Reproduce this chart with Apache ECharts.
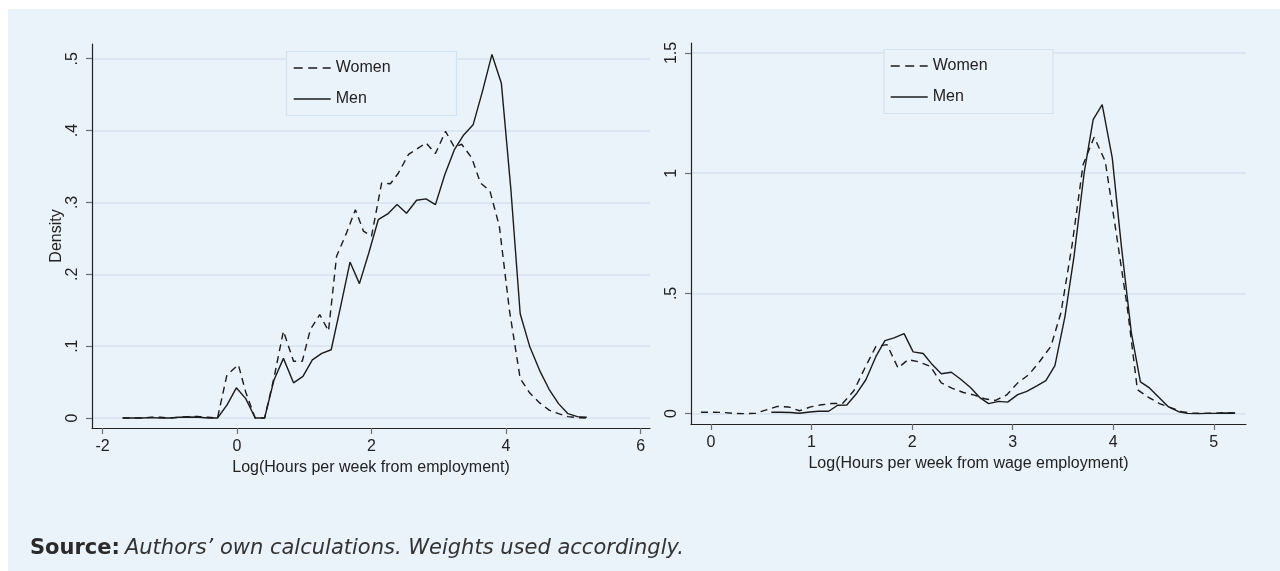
<!DOCTYPE html>
<html>
<head>
<meta charset="utf-8">
<script src="https://cdn.jsdelivr.net/npm/echarts@6/dist/echarts.min.js"></script>
<style>
  html, body { margin: 0; padding: 0; background: #ffffff; }
  #bg { position: absolute; left: 8px; top: 9px; width: 1272px; height: 562px; background: #EAF2FA; }
  #chart { position: absolute; left: 0; top: 0; width: 1280px; height: 571px; }
</style>
</head>
<body>
<div id="bg"></div>
<div id="chart"></div>
<script>
// ---------- Data ----------
// Left panel: Log(Hours per week from employment)
const leftWomenX = [-1.70,-1.56,-1.42,-1.28,-1.14,-1.00,-0.86,-0.71,-0.57,-0.43,-0.29,-0.15,0.02,0.13,0.27,0.41,0.55,0.69,0.84,0.97,1.09,1.23,1.36,1.48,1.63,1.76,1.88,2.00,2.15,2.28,2.40,2.55,2.67,2.81,2.95,3.10,3.23,3.34,3.49,3.62,3.76,3.90,4.05,4.21,4.35,4.50,4.64,4.78,4.92,5.06,5.20];
const leftWomenY = [0,0,0,0.001,0.001,0,0.001,0.002,0.002,0.001,0,0.060,0.074,0.036,0,0,0.056,0.121,0.079,0.079,0.123,0.144,0.121,0.225,0.258,0.290,0.260,0.253,0.327,0.326,0.341,0.367,0.374,0.383,0.368,0.399,0.377,0.381,0.362,0.327,0.316,0.267,0.150,0.055,0.035,0.021,0.011,0.006,0.002,0.0005,0];
const leftMenX = [-1.70,-1.56,-1.42,-1.28,-1.14,-1.00,-0.86,-0.71,-0.57,-0.43,-0.29,-0.15,-0.01,0.13,0.27,0.41,0.55,0.69,0.84,0.98,1.12,1.26,1.40,1.54,1.68,1.82,1.96,2.10,2.24,2.38,2.52,2.67,2.81,2.95,3.09,3.23,3.37,3.51,3.65,3.79,3.93,4.07,4.21,4.35,4.50,4.64,4.78,4.92,5.06,5.20];
const leftMenY = [0,0,0,0.0005,0,0,0.001,0.0015,0.001,0,0,0.018,0.042,0.027,0,0,0.053,0.083,0.049,0.058,0.081,0.090,0.095,0.155,0.217,0.187,0.230,0.276,0.284,0.297,0.285,0.303,0.305,0.297,0.339,0.373,0.394,0.408,0.455,0.506,0.466,0.320,0.145,0.100,0.066,0.040,0.020,0.006,0.002,0.001];

// Right panel: Log(Hours per week from wage employment)
const rightWomenX = [-0.10,0.01,0.12,0.23,0.33,0.44,0.55,0.66,0.77,0.88,0.99,1.10,1.20,1.31,1.42,1.53,1.64,1.75,1.86,1.96,2.07,2.18,2.29,2.40,2.51,2.62,2.72,2.83,2.94,3.05,3.16,3.27,3.38,3.48,3.59,3.70,3.81,3.92,4.03,4.14,4.24,4.35,4.46,4.57,4.68,4.79,4.90,5.00,5.11,5.22];
const rightWomenY = [0.006,0.006,0.005,0.001,0,0.001,0.016,0.030,0.028,0.012,0.028,0.037,0.042,0.043,0.095,0.190,0.280,0.287,0.190,0.225,0.215,0.197,0.128,0.105,0.088,0.077,0.062,0.055,0.078,0.128,0.162,0.218,0.280,0.420,0.700,1.036,1.150,1.050,0.750,0.440,0.100,0.068,0.042,0.025,0.008,0.002,0.001,0.002,0.004,0.003];
const rightMenX = [0.60,0.69,0.79,0.88,0.98,1.07,1.17,1.26,1.35,1.45,1.54,1.64,1.73,1.82,1.92,2.01,2.11,2.20,2.29,2.39,2.48,2.58,2.67,2.76,2.86,2.95,3.05,3.14,3.24,3.33,3.42,3.52,3.61,3.71,3.80,3.89,3.99,4.08,4.18,4.27,4.36,4.46,4.55,4.65,4.74,4.84,4.93,5.02,5.12,5.21];
const rightMenY = [0.006,0.006,0.005,0.002,0.007,0.010,0.010,0.035,0.036,0.085,0.141,0.238,0.304,0.315,0.333,0.257,0.250,0.204,0.166,0.172,0.144,0.109,0.068,0.042,0.051,0.048,0.079,0.093,0.116,0.137,0.200,0.405,0.654,1.000,1.223,1.285,1.064,0.700,0.336,0.132,0.107,0.065,0.028,0.008,0.001,0,0.001,0.001,0.003,0.002];

// Tick labels
const leftXTicks = [-2, 0, 2, 4, 6];
const leftYTicks = [0, 0.1, 0.2, 0.3, 0.4, 0.5];
const rightXTicks = [0, 1, 2, 3, 4, 5];
const rightYTicks = [0, 0.5, 1, 1.5];
const seriesNames = ['Women', 'Men'];

// ---------- Chart ----------
const zip = (xs, ys) => xs.map((x, i) => [x, ys[i]]);
const FONT = '"Liberation Sans", Arial, sans-serif';
const TXT = '#222222';
const stataNum = v => (v === 0 ? '0' : String(v).replace(/^0\./, '.'));

function xAxisCfg(gridIndex, min, max, ticks, name) {
  return {
    type: 'value', gridIndex, min, max,
    name, nameLocation: 'middle', nameGap: 24,
    nameTextStyle: { fontFamily: FONT, fontSize: 16, color: TXT },
    axisLine: { show: true, onZero: false, lineStyle: { color: '#222', width: 1.2 } },
    axisTick: { show: true, customValues: ticks, length: 6, lineStyle: { color: '#6f6f6f', width: 1.2 } },
    axisLabel: { customValues: ticks, margin: 11, fontFamily: FONT, fontSize: 16, color: TXT, formatter: v => String(v) },
    splitLine: { show: false }
  };
}
function yAxisCfg(gridIndex, min, max, ticks, name) {
  return {
    type: 'value', gridIndex, min, max,
    name, nameLocation: 'middle', nameGap: 26, nameRotate: 90,
    nameTextStyle: { fontFamily: FONT, fontSize: 16, color: TXT },
    axisLine: { show: true, onZero: false, lineStyle: { color: '#222', width: 1.2 } },
    axisTick: { show: true, customValues: ticks, length: 6, lineStyle: { color: '#6f6f6f', width: 1.2 } },
    axisLabel: { customValues: ticks, rotate: 90, margin: 11, fontFamily: FONT, fontSize: 16, color: TXT, formatter: stataNum },
    splitLine: { show: true, lineStyle: { color: '#D4E3F0', width: 1.5 } }
  };
}
function lineSeries(name, xi, yi, data, dashed) {
  return {
    name, type: 'line', xAxisIndex: xi, yAxisIndex: yi, data,
    showSymbol: false, symbol: 'none', smooth: false, animation: false,
    lineStyle: { color: '#1b1b1b', width: 1.4, type: dashed ? [7, 5] : 'solid' },
    itemStyle: { color: '#1b1b1b' }, z: 2
  };
}
function legendCfg(id, left, top) {
  return {
    id, orient: 'vertical', left, top,
    data: [
      { name: seriesNames[0], lineStyle: { type: [9, 5.5], width: 1.4 } },
      { name: seriesNames[1], lineStyle: { width: 1.4 } }
    ],
    itemWidth: 37, itemHeight: 14, itemGap: 15, padding: 0,
    textStyle: { fontFamily: FONT, fontSize: 16, color: TXT },
    itemStyle: { opacity: 0 },
    selectedMode: false, z: 5
  };
}

const chart = echarts.init(document.getElementById('chart'), null, { renderer: 'canvas' });
const option = {
  backgroundColor: 'transparent',
  animation: false,
  grid: [
    { left: 92, right: 630, top: 44, bottom: 143 },
    { left: 691, right: 34, top: 43, bottom: 147 }
  ],
  xAxis: [
    xAxisCfg(0, -2.156, 6.14, leftXTicks, 'Log(Hours per week from employment)'),
    xAxisCfg(1, -0.199, 5.32, rightXTicks, 'Log(Hours per week from wage employment)')
  ],
  yAxis: [
    yAxisCfg(0, -0.0139, 0.5205, leftYTicks, 'Density'),
    yAxisCfg(1, -0.043, 1.5416, rightYTicks, '')
  ],
  legend: [
    legendCfg('l1', 293, 60),
    legendCfg('l2', 890, 58)
  ],
  graphic: [
    { type: 'rect', z: 3, shape: { x: 286.5, y: 51.5, width: 170, height: 64 },
      style: { fill: '#EAF2FA', stroke: '#D3E2F0', lineWidth: 1.2 } },
    { type: 'rect', z: 3, shape: { x: 884, y: 49.5, width: 169, height: 64 },
      style: { fill: '#EAF2FA', stroke: '#D3E2F0', lineWidth: 1.2 } }
  ],
  title: {
    left: 30, top: 538, padding: 0,
    text: '{b|Source:} {i|Authors\u2019 own calculations. Weights used accordingly.}',
    textStyle: {
      rich: {
        b: { fontFamily: '"DejaVu Sans", sans-serif', fontWeight: 'bold', fontStyle: 'normal', fontSize: 21, color: '#2a2a2a' },
        i: { fontFamily: '"DejaVu Sans", sans-serif', fontWeight: 'normal', fontStyle: 'italic', fontSize: 21, color: '#333333' }
      }
    }
  },
  series: [
    lineSeries('Women', 0, 0, zip(leftWomenX, leftWomenY), true),
    lineSeries('Men', 0, 0, zip(leftMenX, leftMenY), false),
    lineSeries('Women', 1, 1, zip(rightWomenX, rightWomenY), true),
    lineSeries('Men', 1, 1, zip(rightMenX, rightMenY), false)
  ]
};
chart.setOption(option);
</script>
</body>
</html>
